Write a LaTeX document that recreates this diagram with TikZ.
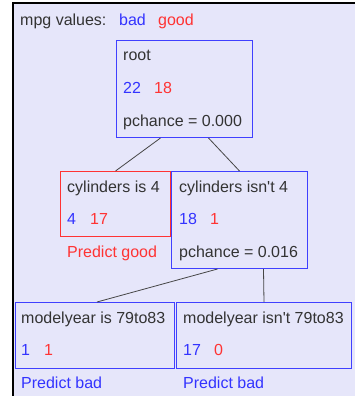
\documentclass[tikz,border=0pt]{standalone}
\usepackage{fontspec}
\setmainfont{Liberation Sans}[Ligatures=TeXOff]
\definecolor{bg}{RGB}{230,230,250}
\definecolor{bl}{RGB}{51,51,255}
\definecolor{rd}{RGB}{255,51,51}
\definecolor{tx}{RGB}{51,51,51}
\definecolor{bbox}{RGB}{64,64,255}
\definecolor{edge}{RGB}{70,70,70}
\begin{document}
\begin{tikzpicture}[x=1bp,y=-1bp,
  every node/.style={font=\fontsize{16bp}{19bp}\selectfont},
  lbl/.style={anchor=base west, inner sep=0pt, text=tx},
  blu/.style={lbl, text=bl},
  red/.style={lbl, text=rd},
  treebox/.style={draw=bbox, line width=1bp, anchor=north west, inner sep=0pt},
  leafbox/.style={draw=rd, line width=1bp, anchor=north west, inner sep=0pt},
  link/.style={draw=edge, line width=0.8bp}]
\useasboundingbox (0,0) rectangle (355,396);
\fill[bg] (13,3) rectangle (355,396);
\draw[black, line width=1.2bp] (13,396) -- (13,3) -- (355,3);

\node[lbl] (legend) at (20,25) {mpg values:};
\node[blu] (legbad) at (119,25) {bad};
\node[red] (leggood) at (158,25) {good};

% boxes
\node[treebox, minimum width=136bp, minimum height=97bp] (root) at (116,40) {};
\node[leafbox, minimum width=110bp, minimum height=65bp] (cyl4) at (60,171) {};
\node[treebox, minimum width=136bp, minimum height=97bp] (cyln4) at (171,171) {};
\node[treebox, minimum width=159bp, minimum height=66bp] (my) at (15,302) {};
\node[treebox, minimum width=175bp, minimum height=66bp] (myn) at (176,302) {};

% edges
\draw[link] ([xshift=-24bp]root.south) -- (cyl4.north);
\draw[link] ([xshift=24bp]root.south) -- (cyln4.north);
\draw[link] ([xshift=-22bp]cyln4.south) -- ([xshift=2bp]my.north);
\draw[link] ([xshift=24bp]cyln4.south) -- (myn.north);

% root texts
\node[lbl] (rootname) at (123,60) {root};
\node[blu] (rootb) at (123,93) {22};
\node[red] (rootg) at (154,93) {18};
\node[lbl] (rootp) at (123,126) {pchance = 0.000};

% cylinders is 4
\node[lbl] (c4name) at (67,192) {cylinders is 4};
\node[blu] (c4b) at (67,224) {4};
\node[red] (c4g) at (90,224) {17};
\node[red] (c4pred) at (67,257) {Predict good};

% cylinders isn't 4
\node[lbl] (cn4name) at (179,192) {cylinders isn't 4};
\node[blu] (cn4b) at (179,224) {18};
\node[red] (cn4g) at (210,224) {1};
\node[lbl] (cn4p) at (179,257) {pchance = 0.016};

% modelyear is 79to83
\node[lbl] (myname) at (21,323) {modelyear is 79to83};
\node[blu] (myb) at (21,355) {1};
\node[red] (myg) at (44,355) {1};
\node[blu] (mypred) at (21,388) {Predict bad};

% modelyear isn't 79to83
\node[lbl] (mynname) at (183,323) {modelyear isn't 79to83};
\node[blu] (mynb) at (183,355) {17};
\node[red] (myng) at (214,355) {0};
\node[blu] (mynpred) at (183,388) {Predict bad};
\end{tikzpicture}
\end{document}
